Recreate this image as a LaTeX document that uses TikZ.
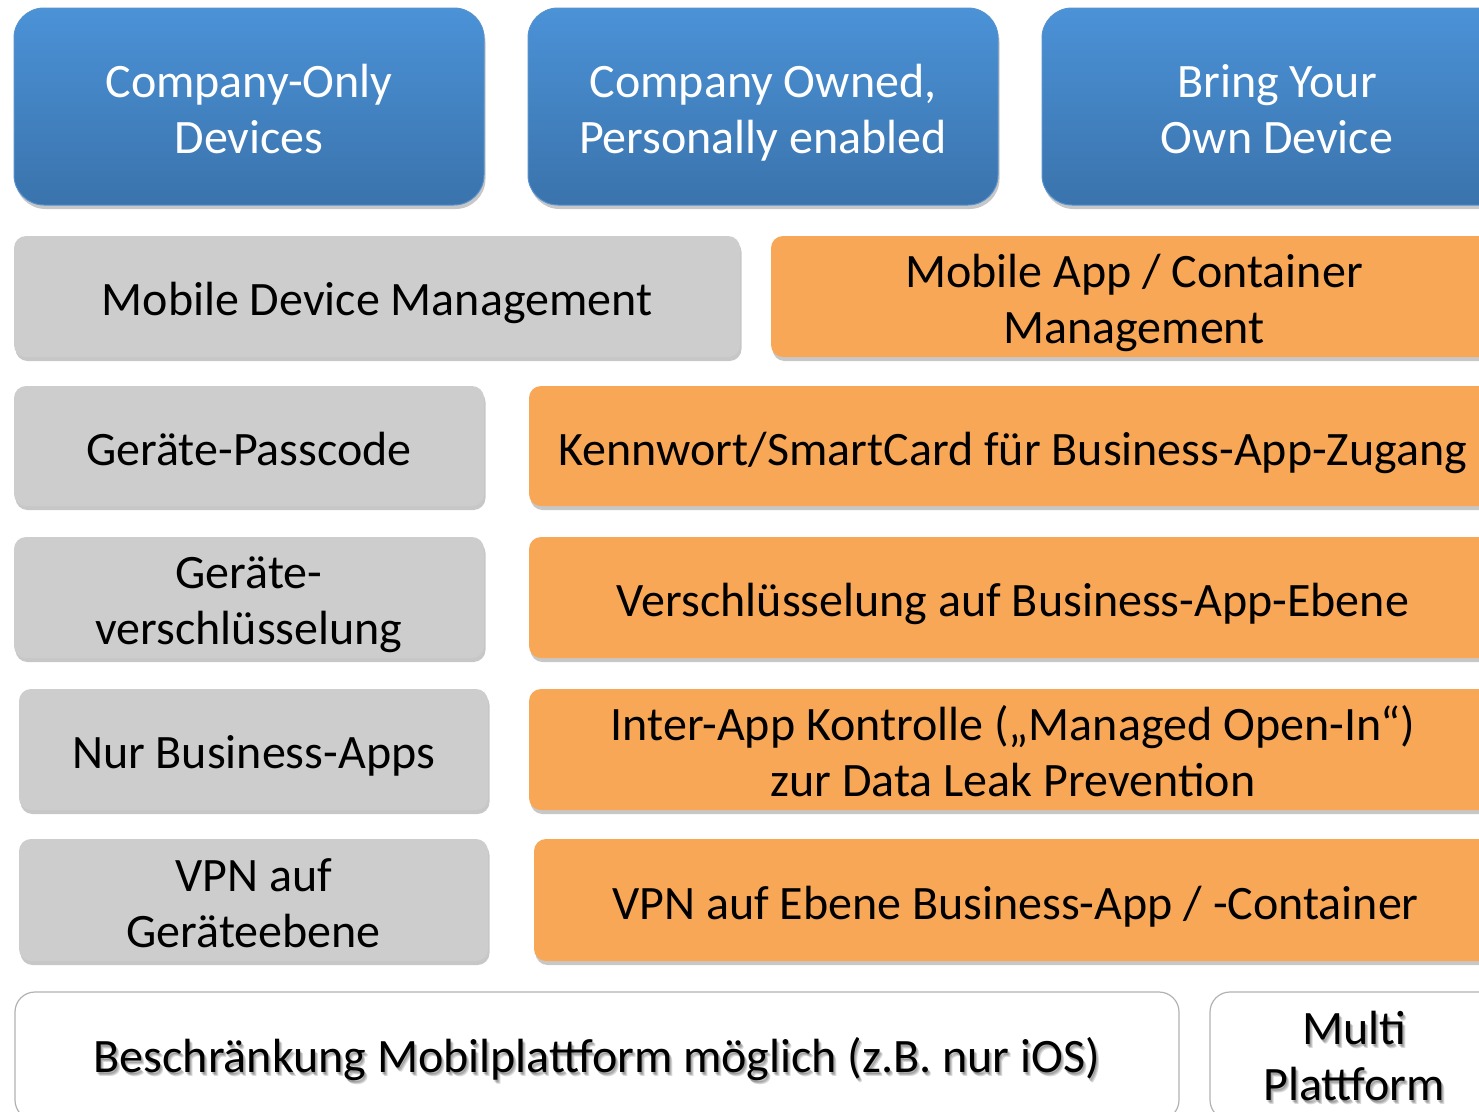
\documentclass[tikz,border=0pt]{standalone}
\usepackage{fontspec}
\setmainfont{Carlito}
\usetikzlibrary{shadows}

\definecolor{devtop}{RGB}{75,146,215}
\definecolor{devbot}{RGB}{58,115,172}
\definecolor{devline}{RGB}{86,146,205}
\definecolor{mgmtgray}{RGB}{205,205,205}
\definecolor{contorange}{RGB}{248,167,87}
\definecolor{platline}{RGB}{178,178,178}

% one text line with fixed height and depth
\newcommand\rowtxt[1]{\raisebox{-7pt}[36pt][12pt]{#1}}

\begin{document}
\begin{tikzpicture}[x=1pt,y=-1pt,
    every node/.style={inner sep=0pt,outer sep=0pt,anchor=north west,align=center,
        font=\fontsize{48}{56}\selectfont},
    boxshadow/.style={drop shadow={shadow xshift=1.5pt,shadow yshift=-4pt,opacity=.22,fill=black}},
    devbox/.style={boxshadow,rounded corners=30pt,top color=devtop,bottom color=devbot,
        draw=devline,line width=1pt,text=white,minimum width=470pt,minimum height=197pt},
    mgmtbox/.style={boxshadow,rounded corners=12pt,fill=mgmtgray,minimum height=121pt},
    contbox/.style={boxshadow,rounded corners=12pt,fill=contorange,minimum height=121pt},
    platbox/.style={rounded corners=20pt,fill=white,draw=platline,line width=1.2pt,minimum height=128pt},
    txtshadow/.style={anchor=center,text=black,opacity=.15},
    plattxt/.style={anchor=center,yshift=3pt}]
    \useasboundingbox (0,0) rectangle (1479,1111);
    \clip (0,0) rectangle (1479,1111);

    % device classes
    \node[devbox] (company) at (14,8) {\rowtxt{Company-Only}\\\rowtxt{Devices}};
    \node[devbox] (cope) at (528,8) {\rowtxt{Company Owned,}\\\rowtxt{Personally enabled}};
    \node[devbox] (byod) at (1042,8) {\rowtxt{Bring Your}\\\rowtxt{Own Device}};

    % management
    \node[mgmtbox,minimum width=726pt] (mdm) at (14,236) {\rowtxt{Mobile Device Management}};
    \node[contbox,minimum width=726pt] (macm) at (771,236) {\rowtxt{Mobile App / Container}\\\rowtxt{Management}};

    \node[mgmtbox,minimum width=470pt,minimum height=120pt] (passcode) at (14,386) {\rowtxt{Geräte-Passcode}};
    \node[contbox,minimum width=968pt,minimum height=120pt] (kennwort) at (529,386) {\rowtxt{Kennwort/SmartCard für Business-App-Zugang}};

    \node[mgmtbox,minimum width=470pt] (devenc) at (14,537) {\rowtxt{Geräte-}\\\rowtxt{verschlüsselung}};
    \node[contbox,minimum width=968pt] (appenc) at (529,537) {\rowtxt{Verschlüsselung auf Business-App-Ebene}};

    \node[mgmtbox,minimum width=469pt] (onlyapps) at (19,689) {\rowtxt{Nur Business-Apps}};
    \node[contbox,minimum width=968pt] (interapp) at (529,689) {\rowtxt{Inter-App Kontrolle („Managed Open-In“)}\\\rowtxt{zur Data Leak Prevention}};

    \node[mgmtbox,minimum width=469pt,minimum height=122pt] (devvpn) at (19,839) {\rowtxt{VPN auf}\\\rowtxt{Geräteebene}};
    \node[contbox,minimum width=963pt,minimum height=122pt] (appvpn) at (534,839) {\rowtxt{VPN auf Ebene Business-App / -Container}};

    % platforms
    \node[platbox,minimum width=1164pt] (restrict) at (15,992) {};
    \node[platbox,minimum width=288pt] (multi) at (1210,992) {};
    \foreach \dx/\dy in {1/0.5,2/-0.5,3/-1.5}{
        \node[txtshadow,xshift=\dx pt,yshift=\dy pt] at (restrict.center) {\rowtxt{Beschränkung Mobilplattform möglich (z.B. nur iOS)}};
        \node[txtshadow,xshift=\dx pt,yshift=\dy pt] at (multi.center) {\rowtxt{Multi}\\\rowtxt{Plattform}};
    }
    \node[plattxt] (restricttxt) at (restrict.center) {\rowtxt{Beschränkung Mobilplattform möglich (z.B. nur iOS)}};
    \node[plattxt] (multitxt) at (multi.center) {\rowtxt{Multi}\\\rowtxt{Plattform}};
\end{tikzpicture}
\end{document}
